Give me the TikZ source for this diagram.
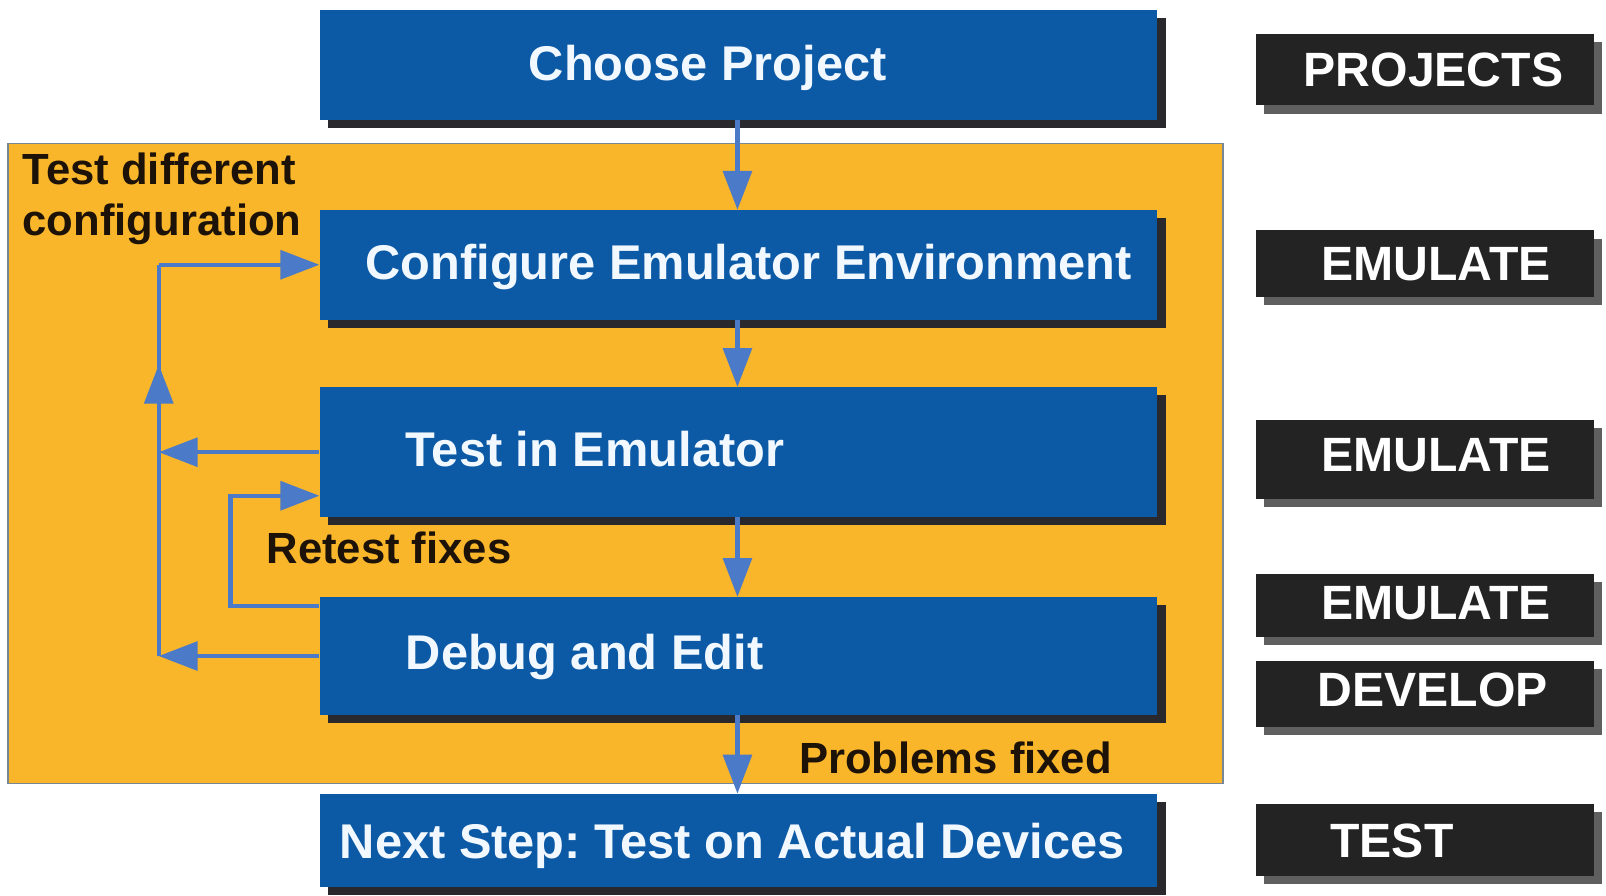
\documentclass[tikz,border=0pt]{standalone}
\usepackage{fontspec}
\setmainfont{Liberation Sans}
\usetikzlibrary{arrows.meta,shadows}
\definecolor{orng}{RGB}{250,182,42}
\definecolor{bord}{RGB}{120,135,150}
\definecolor{bbox}{RGB}{12,90,166}
\definecolor{arrb}{RGB}{74,122,200}
\definecolor{dark}{RGB}{35,35,35}
\definecolor{shdw}{RGB}{40,40,45}
\definecolor{lshdw}{RGB}{95,95,95}
\definecolor{wtxt}{RGB}{242,248,255}
\definecolor{ltxt}{RGB}{28,18,8}
\frenchspacing
\begin{document}
\begin{tikzpicture}[x=1pt,y=-1pt,
  bluebox/.style={fill=bbox, inner sep=0pt, minimum width=818pt,
     drop shadow={shadow xshift=8pt, shadow yshift=-8pt, fill=shdw, opacity=1}},
  darkbox/.style={fill=dark, inner sep=0pt, minimum width=330pt,
     drop shadow={shadow xshift=8pt, shadow yshift=-8pt, fill=lshdw, opacity=1}},
  btxt/.style={inner sep=0pt, anchor=base, text=wtxt, font=\fontsize{47.6pt}{50pt}\selectfont\bfseries},
  rtxt/.style={inner sep=0pt, anchor=base, text=white, font=\fontsize{47pt}{50pt}\selectfont\bfseries},
  ltext/.style={inner sep=0pt, anchor=base west, text=ltxt, font=\fontsize{42.6pt}{45pt}\selectfont\bfseries},
  arr/.style={draw=arrb, line width=4pt, -{Triangle[length=38pt,width=28pt]}},
  arrline/.style={draw=arrb, line width=4pt}]
\useasboundingbox (0,0) rectangle (1568,874);
\fill[white] (0,0) rectangle (1568,874);

% group area
\node[draw=bord, line width=1.5pt, fill=orng, inner sep=0pt, minimum width=1186pt, minimum height=625pt] (grp) at (601,452.5) {};

% main boxes
\node[bluebox, minimum height=107pt] (choose) at (721,63.5) {};
\node[btxt] (tchoose) at (691,79) {Choose Project};
\node[bluebox, minimum height=107pt] (conf) at (721,258.5) {};
\node[btxt] (tconf) at (731,273) {Configure Emulator Environment};
\node[bluebox, minimum height=127pt] (test) at (721,441.5) {};
\node[btxt, anchor=base west] (ttest) at (396,455) {Test in Emulator};
\node[bluebox, minimum height=115pt] (debug) at (721,640.5) {};
\node[btxt, anchor=base west] (tdebug) at (396,654) {Debug and Edit};
\node[bluebox, minimum height=91pt] (next) at (721,820.5) {};
\node[btxt] (tnext) at (715,838) {Next Step: Test on Actual Devices};

% labels
\node[ltext] (lab1) at (22,180) {Test different};
\node[ltext] (lab2) at (22,230) {configuration};
\node[ltext] (lab3) at (260,550) {Retest fixes};
\node[ltext] (lab4) at (780,755) {Problems fixed};

% right side tags
\node[darkbox, minimum height=70pt] (p1) at (1391,68) {};
\node[rtxt] (tp1) at (1399.5,84) {PROJECTS};
\node[darkbox, minimum height=65pt] (p2) at (1391,257.5) {};
\node[rtxt] (tp2) at (1402,274) {EMULATE};
\node[darkbox, minimum height=77pt] (p3) at (1391,448.5) {};
\node[rtxt] (tp3) at (1402,460) {EMULATE};
\node[darkbox, minimum height=62pt] (p4) at (1391,591) {};
\node[rtxt] (tp4) at (1402,605) {EMULATE};
\node[darkbox, minimum height=65pt] (p5) at (1391,677.5) {};
\node[rtxt] (tp5) at (1399,690) {DEVELOP};
\node[darkbox, minimum height=70pt] (p6) at (1391,820) {};
\node[rtxt] (tp6) at (1359,837) {TEST};

% vertical flow
\draw[arr] ([xshift=-1pt]choose.south) -- ([xshift=-1pt]conf.north);
\draw[arr] ([xshift=-1pt]conf.south) -- ([xshift=-1pt]test.north);
\draw[arr] ([xshift=-1pt]test.south) -- ([xshift=-1pt]debug.north);
\draw[arr] ([xshift=-1pt]debug.south) -- ([xshift=-1pt]next.north);

% feedback loops
\coordinate (L) at (155,0);
\coordinate (mid) at (155,356);
\coordinate (r1) at (225,592);
\coordinate (r2) at (225,484);
\draw[arrline] (debug.west -| L) -- (conf.west -| L);
\draw[arr] (conf.west -| L) -- (conf.west);
\draw[arr] (debug.west -| L) -- (mid);
\draw[arr] (test.west) -- (test.west -| L);
\draw[arr] (debug.west) -- (debug.west -| L);
\draw[arr] (debug.west |- r1) -- (r1) -- (r2) -- (test.west |- r2);
\end{tikzpicture}
\end{document}
